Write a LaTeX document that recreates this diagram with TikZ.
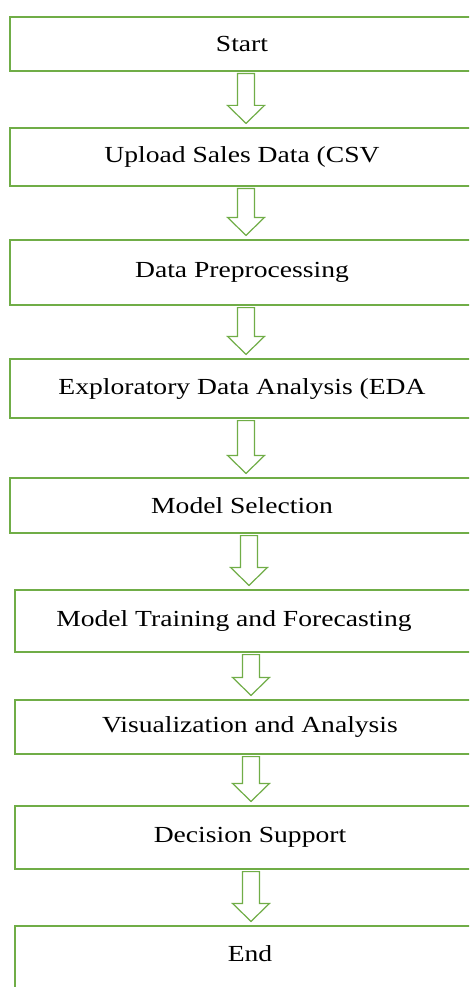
\documentclass[tikz,border=0pt]{standalone}
\usepackage{fontspec}
\setmainfont{Liberation Serif}[FakeStretch=1.2]
\usetikzlibrary{calc}
\usepackage{xcolor}
\definecolor{flowgreen}{RGB}{112,173,71}

\begin{document}
\begin{tikzpicture}[x=1pt,y=-1pt]
			\tikzstyle{box} = [rectangle,draw=flowgreen,line width=1.2pt,fill=white,inner sep=0pt,font=\fontsize{23}{27}\selectfont]
			\tikzstyle{hollow} = [draw=flowgreen,line width=1.2pt,fill=white,line join=miter]
			\useasboundingbox (0,0) rectangle (469,987);
			\clip (0,0) rectangle (469,987);
			\node[box,minimum width=464,minimum height=54] (n1) at (242,44) {Start};
			\node[box,minimum width=464,minimum height=58] (n2) at (242,157) {Upload Sales Data (CSV};
			\node[box,minimum width=464,minimum height=65] (n3) at (242,272.5) {Data Preprocessing};
			\node[box,minimum width=464,minimum height=59] (n4) at (242,388.5) {Exploratory Data Analysis (EDA};
			\node[box,minimum width=464,minimum height=55] (n5) at (242,505.5) {Model Selection};
			\node[box,minimum width=470,minimum height=62] (n6) at (250,621) {Model Training and Forecasting\hspace*{32pt}};
			\node[box,minimum width=470,minimum height=54] (n7) at (250,727) {Visualization and Analysis};
			\node[box,minimum width=470,minimum height=63] (n8) at (250,837.5) {Decision Support};
			\node[box,minimum width=470,minimum height=80,text depth=24pt] (n9) at (250,966) {End};
			% block arrows between the steps
			\foreach \a/\b/\c in {n1/n2/246,n2/n3/246,n3/n4/246,n4/n5/246,n5/n6/249,n6/n7/251,n7/n8/251,n8/n9/251}
				\draw[hollow] let \p1=(\a.south), \p2=(\b.north) in
					({(\c-8.5)*1pt},{\y1-2pt}) -- ({(\c-8.5)*1pt},{\y2+22pt}) -- ({(\c-18.5)*1pt},{\y2+22pt})
					-- ({\c*1pt},{\y2+4pt}) -- ({(\c+18.5)*1pt},{\y2+22pt}) -- ({(\c+8.5)*1pt},{\y2+22pt})
					-- ({(\c+8.5)*1pt},{\y1-2pt}) -- cycle;
\end{tikzpicture}
\end{document}
